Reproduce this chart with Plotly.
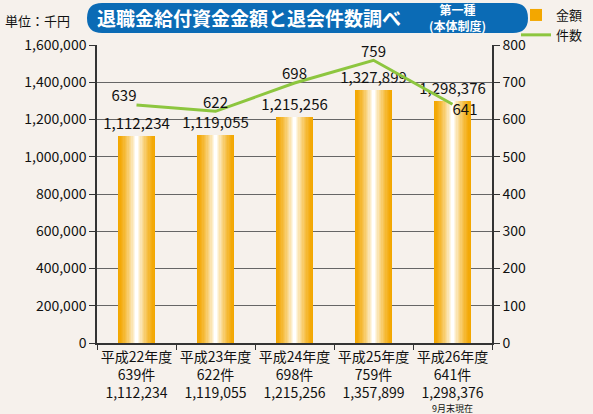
import plotly.graph_objects as go

# ---- data ----
years = ["平成22年度", "平成23年度", "平成24年度", "平成25年度", "平成26年度"]
counts = [639, 622, 698, 759, 641]
amounts = [1112234, 1119055, 1215256, 1357899, 1298376]
amount_labels = ["1,112,234", "1,119,055", "1,215,256", "1,327,899", "1,298,376"]
axis_amount_text = ["1,112,234", "1,119,055", "1,215,256", "1,357,899", "1,298,376"]
left_ticks = [0, 200000, 400000, 600000, 800000, 1000000, 1200000, 1400000, 1600000]
right_ticks = [0, 100, 200, 300, 400, 500, 600, 700, 800]

FONT = "Noto Sans CJK JP"
ORANGE = (243, 167, 0)
GREEN = "#8DC63F"
BLUE = "#0B6BB5"
BG = "#F6F1EC"

W, H = 593, 414
L, R, T, B = 97, 101, 45, 71

def px(x, y):
    return (x - L) / (W - L - R), (H - B - y) / (H - T - B)

xcats = [f"{y}<br>{c}件<br>{a}" for y, c, a in zip(years, counts, axis_amount_text)]

fig = go.Figure()

# gradient bars via overlaid layers
N = 14
full_w = 0.47
for k in range(N):
    t = k / (N - 1)
    w = full_w * (1 - 0.93 * t)
    m = t ** 1.4
    col = tuple(int(round(c + (255 - c) * m)) for c in ORANGE)
    fig.add_trace(go.Bar(
        x=xcats, y=amounts, width=w,
        marker=dict(color=f"rgb{col}", line=dict(width=0)),
        name="金額", showlegend=(k == 0), legendrank=1,
        text=amount_labels if k == 0 else None,
        textposition="outside" if k == 0 else "none",
        constraintext="none",
        textfont=dict(size=15, color="#111", family=FONT),
        cliponaxis=False, hoverinfo="skip",
    ))

fig.add_trace(go.Scatter(
    x=xcats, y=counts, yaxis="y2", mode="lines+text",
    line=dict(color=GREEN, width=3),
    text=[str(c) for c in counts],
    textposition=["top left", "top center", "top center", "top center", "bottom right"],
    textfont=dict(size=15, color="#111", family=FONT),
    name="件数", legendrank=2, cliponaxis=False,
))

# title box
x0, y0 = px(87, 3)
x1, y1 = px(528, 33)
rx = 15 / (W - L - R)
ry = 15 / (H - T - B)
path = (f"M {x0+rx},{y0} L {x1-rx},{y0} Q {x1},{y0} {x1},{y0-ry} "
        f"Q {x1},{y1} {x1-rx},{y1} L {x0+rx},{y1} Q {x0},{y1} {x0},{y1+ry} "
        f"Q {x0},{y0} {x0+rx},{y0} Z")
fig.add_shape(type="path", path=path, xref="paper", yref="paper",
              fillcolor=BLUE, line=dict(width=0), layer="above")

def note(x, y, text, size, color="#111"):
    ax, ay = px(x, y)
    fig.add_annotation(x=ax, y=ay, xref="paper", yref="paper", showarrow=False,
                       xanchor="center", yanchor="middle", text=text,
                       font=dict(size=size, color=color, family=FONT))

note(249, 18, "<b>退職金給付資金金額と退会件数調べ</b>", 19, "white")
note(457, 18, "<b>第一種<br>(本体制度)</b>", 12, "white")
note(37, 20, "単位：千円", 13)
note(452, 408, "9月末現在", 9)

lx, ly = px(516, 0)
fig.update_layout(
    width=W, height=H,
    margin=dict(l=L, r=R, t=T, b=B, autoexpand=False),
    paper_bgcolor=BG, plot_bgcolor=BG,
    barmode="overlay", bargap=0,
    font=dict(family=FONT, color="#111"),
    showlegend=True,
    legend=dict(x=lx, y=ly, xanchor="left", yanchor="top",
                bgcolor="rgba(0,0,0,0)", font=dict(size=13, family=FONT),
                itemwidth=30, tracegroupgap=0, traceorder="normal"),
    xaxis=dict(showline=True, linecolor="#333", linewidth=1.5, tickangle=0,
               automargin=False,
               ticks="outside", tickson="boundaries", ticklen=5, tickcolor="#333",
               tickfont=dict(size=14, family=FONT, color="#111"),
               showgrid=False, fixedrange=True),
    yaxis=dict(range=[0, 1600000], tickvals=left_ticks, automargin=False,
               ticktext=[f"{v:,}" for v in left_ticks],
               showline=True, linecolor="#333", linewidth=1.5,
               ticks="outside", ticklen=6, tickcolor="#333",
               showgrid=True, gridcolor="#666", gridwidth=1.3,
               zeroline=False, tickfont=dict(size=14, family=FONT, color="#111")),
    yaxis2=dict(range=[0, 800], tickvals=right_ticks, overlaying="y", side="right",
                automargin=False,
                showline=True, linecolor="#333", linewidth=1.5,
                ticks="outside", ticklen=6, tickcolor="#333",
                showgrid=False, zeroline=False,
                tickfont=dict(size=14, family=FONT, color="#111")),
)

fig.write_html("out.html", config={"displayModeBar": False},
               post_script="document.body.style.margin='0';document.body.style.padding='0';"
                           "document.body.style.background='" + BG + "';")
